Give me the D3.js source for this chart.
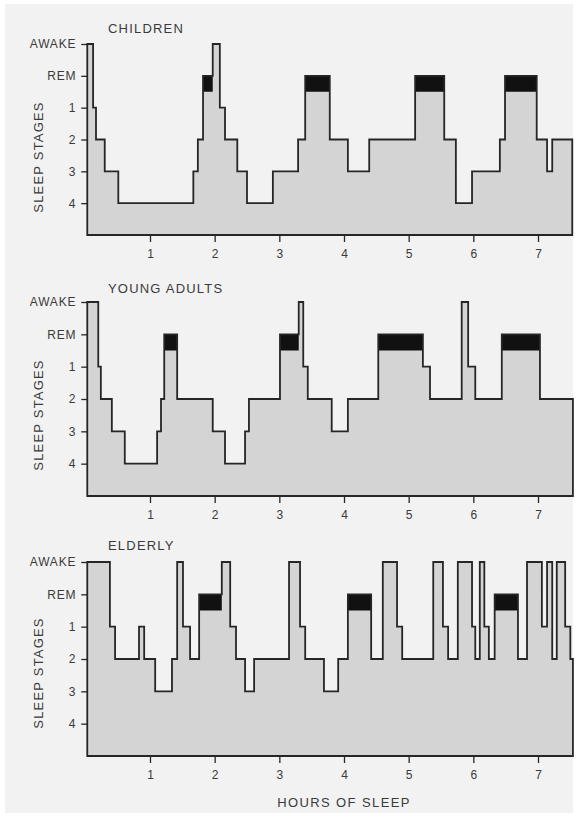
<!DOCTYPE html>
<html>
<head>
<meta charset="utf-8">
<script src="https://cdn.jsdelivr.net/npm/d3@7"></script>
<style>
  html, body { margin: 0; padding: 0; background: #ffffff; }
  svg { display: block; }
  text { font-family: "Liberation Sans", Arial, sans-serif; fill: #3a3a3a; }
</style>
</head>
<body>
<svg id="chart" width="578" height="817"></svg>
<script>
// ---- DATA ----
const stageLevels = ["AWAKE", "REM", "1", "2", "3", "4"];
const hourTicks = [1, 2, 3, 4, 5, 6, 7];
const panelTitles = ["CHILDREN", "YOUNG ADULTS", "ELDERLY"];

// change points (hours) and the stage held until the next change point
const childrenTimes = [0.03, 0.12, 0.165, 0.30, 0.51, 1.67, 1.74, 1.82, 1.97, 2.08, 2.16, 2.35, 2.50, 2.90, 3.29, 3.40, 3.78, 4.06, 4.39, 5.10, 5.55, 5.73, 5.98, 6.41, 6.49, 6.98, 7.14, 7.22, 7.53];
const childrenStages = ["AWAKE", "1", "2", "3", "4", "3", "2", "REM", "AWAKE", "1", "2", "3", "4", "3", "2", "REM", "2", "3", "2", "REM", "2", "4", "3", "2", "REM", "2", "3", "2"];

const youngTimes = [0.03, 0.20, 0.24, 0.41, 0.61, 1.11, 1.17, 1.22, 1.42, 1.97, 2.16, 2.47, 2.53, 3.01, 3.30, 3.37, 3.44, 3.81, 4.06, 4.53, 5.22, 5.33, 5.82, 5.92, 6.03, 6.44, 7.03, 7.54];
const youngStages = ["AWAKE", "1", "2", "3", "4", "3", "2", "REM", "2", "3", "4", "3", "2", "REM", "AWAKE", "1", "2", "3", "2", "REM", "1", "2", "AWAKE", "1", "2", "REM", "2"];

const elderlyTimes = [0.03, 0.38, 0.46, 0.83, 0.91, 1.08, 1.34, 1.42, 1.51, 1.62, 1.76, 2.11, 2.24, 2.33, 2.47, 2.61, 3.15, 3.32, 3.40, 3.69, 3.91, 4.06, 4.42, 4.60, 4.82, 4.90, 5.38, 5.53, 5.61, 5.76, 5.98, 6.03, 6.10, 6.17, 6.24, 6.33, 6.69, 6.83, 7.06, 7.14, 7.22, 7.29, 7.42, 7.50, 7.54];
const elderlyStages = ["AWAKE", "1", "2", "1", "2", "3", "2", "AWAKE", "1", "2", "REM", "AWAKE", "1", "2", "3", "2", "AWAKE", "1", "2", "3", "2", "REM", "2", "AWAKE", "1", "2", "AWAKE", "1", "2", "AWAKE", "1", "2", "AWAKE", "1", "2", "REM", "2", "AWAKE", "1", "AWAKE", "2", "AWAKE", "1", "2"];

const panelTimes = [childrenTimes, youngTimes, elderlyTimes];
const panelStages = [childrenStages, youngStages, elderlyStages];

// ---- LAYOUT ----
const svg = d3.select("#chart");
svg.append("rect").attr("x", 5).attr("y", 4).attr("width", 568).attr("height", 809).attr("fill", "#f2f2f2");

const panelTop = [44, 302, 562];     // y of AWAKE
const panelBase = [235, 496, 756];   // y of baseline
const titleY = [33, 293, 550];
const ylabelY = [157, 415, 673];

const x = d3.scaleLinear().domain([1, 7]).range([150, 538]);

const lineColor = "#262626";

panelTitles.forEach((title, p) => {
  const levels = stageLevels.concat(["base"]);
  const y = d3.scalePoint().domain(levels).range([panelTop[p], panelBase[p]]).padding(0);
  const step = y.step();
  const g = svg.append("g");

  const times = panelTimes[p];
  const stages = panelStages[p];
  const pts = times.map((t, i) => ({ t: t, s: stages[Math.min(i, stages.length - 1)] }));

  const area = d3.area()
    .x(d => x(d.t))
    .y0(y("base"))
    .y1(d => y(d.s))
    .curve(d3.curveStepAfter);

  // filled hypnogram
  g.append("path")
    .attr("d", area(pts))
    .attr("fill", "#d4d4d4")
    .attr("stroke", "none");

  // REM bands
  const rem = [];
  stages.forEach((s, i) => { if (s === "REM") rem.push({ a: times[i], b: times[i + 1] }); });
  g.selectAll("rect.rem").data(rem).enter().append("rect")
    .attr("class", "rem")
    .attr("x", d => x(d.a))
    .attr("y", y("REM"))
    .attr("width", d => x(d.b) - x(d.a))
    .attr("height", step / 2)
    .attr("fill", "#111");

  // outline
  g.append("path")
    .attr("d", area(pts))
    .attr("fill", "none")
    .attr("stroke", lineColor)
    .attr("stroke-width", 1.8)
    .attr("stroke-linejoin", "miter");

  // y axis (ticks only)
  const yAxis = d3.axisLeft(y).tickValues(stageLevels).tickSize(6).tickPadding(5);
  const ya = g.append("g").attr("transform", `translate(${x(times[0])},0)`).call(yAxis);
  ya.select(".domain").remove();
  ya.selectAll("line").attr("stroke", lineColor).attr("stroke-width", 1.3);
  ya.selectAll("text")
    .attr("fill", "#3a3a3a")
    .style("font-size", "12px")
    .style("letter-spacing", "0.8px")
    .style("font-family", "'Liberation Sans', Arial, sans-serif");

  // x axis
  const xAxis = d3.axisBottom(x).tickValues(hourTicks).tickFormat(d3.format("d")).tickSize(7).tickPadding(7);
  const xa = g.append("g").attr("transform", `translate(0,${y("base")})`).call(xAxis);
  xa.select(".domain").remove();
  xa.selectAll("line").attr("stroke", lineColor).attr("stroke-width", 1.3);
  xa.selectAll("text")
    .attr("fill", "#3a3a3a")
    .style("font-size", "12px")
    .style("font-family", "'Liberation Sans', Arial, sans-serif");

  // title
  g.append("text")
    .attr("x", 108).attr("y", titleY[p])
    .style("font-size", "13px")
    .style("letter-spacing", "1.2px")
    .text(title);

  // y label
  g.append("text")
    .attr("transform", `translate(43,${ylabelY[p]}) rotate(-90)`)
    .attr("text-anchor", "middle")
    .style("font-size", "13px")
    .style("letter-spacing", "1.2px")
    .text("SLEEP STAGES");
});

svg.append("text")
  .attr("x", 344).attr("y", 807)
  .attr("text-anchor", "middle")
  .style("font-size", "13px")
  .style("letter-spacing", "1.4px")
  .text("HOURS OF SLEEP");
</script>
</body>
</html>
